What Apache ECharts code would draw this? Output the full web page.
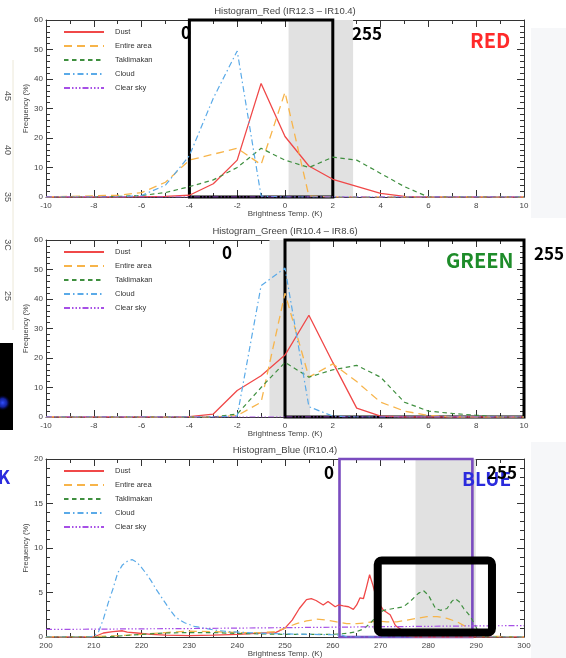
<!DOCTYPE html>
<html>
<head>
<meta charset="utf-8">
<script src="https://cdn.jsdelivr.net/npm/echarts@6/dist/echarts.min.js"></script>
<style>
html,body{margin:0;padding:0;background:#fff;}
#chart{width:566px;height:658px;}
</style>
</head>
<body>
<div id="chart"></div>
<script>
// ---- Red and Green histograms: brightness-temperature difference bins (K) ----
const diffBins = [-10,-9,-8,-7,-6,-5,-4,-3,-2,-1,0,1,2,3,4,5,6,7,8,9,10];

// Histogram_Red (IR12.3 - IR10.4), frequency in %
const redDust    = [0,0,0,0,0.1,0.2,0.6,4.5,12.5,38.5,20.5,10.5,6,3.6,1.2,0.2,0,0,0,0,0];
const redEntire  = [0,0.2,0.4,0.6,1.5,5,12.5,14.5,16.5,11,35.5,0.3,0,0,0,0,0,0,0,0,0];
const redTakla   = [0,0,0,0.2,0.5,1.5,3.5,5.8,10,16.5,12.5,10,13.5,12.5,8,3.5,0,0,0,0,0];
const redCloud   = [0,0,0,0,0.5,4,14,33.5,49.5,0.3,0,0,0,0,0,0,0,0,0,0,0];
const redClear   = [0,0,0,0,0,0,0,0,0,0,0,0,0,0,0,0,0,0,0,0,0];

// Histogram_Green (IR10.4 - IR8.6), frequency in %
const greenDust   = [0,0,0,0,0,0,0.1,1,9,14,21,34.5,18.5,3,0.3,0,0,0,0,0,0];
const greenEntire = [0,0,0,0,0,0,0,0,0.5,5,42,13.5,18,12,5,2,0.5,0,0,0,0];
const greenTakla  = [0,0,0,0,0,0,0,0,1,10,18.5,13.5,16,17.5,13.5,5,2,1.2,0.6,0,0];
const greenCloud  = [0,0,0,0,0,0,0,0,0.3,44.5,50.5,3.5,0.3,0,0,0,0,0,0,0,0];
const greenClear  = [0,0,0,0,0,0,0,0,0,0,0,0,0,0,0,0,0,0,0,0,0];

// Histogram_Blue (IR10.4): brightness temperature (K) and frequency (%)
const blueDustT  = [200,210,212,214,216,217,219,222,225,230,235,240,245,248,250,251.5,253,254.5,255.5,256.5,258,259,260,260.5,261.2,262.2,263.3,264.3,265,265.7,266.4,267,267.7,268.4,269.2,270.6,272,273.1,274.1,275,277,300];
const blueDust   = [0,0,0.45,0.6,0.7,0.55,0.45,0.3,0.2,0.15,0.2,0.3,0.45,0.5,1.0,1.9,3.2,4.2,4.3,4.1,3.6,4.0,3.6,3.4,3.6,3.5,3.4,3.1,3.6,4.4,4.3,5.5,7.0,5.8,4.2,3.0,2.5,1.3,0.9,0.2,0,0];
const blueEntireT = [200,210,215,220,225,228,230,235,240,245,248,250,252.4,254.5,256.6,258.7,260.8,262.9,265,267.1,269.2,271.3,273.4,275.5,277.6,279.7,281.8,283.9,286,288.1,289.5,291,300];
const blueEntire  = [0,0.05,0.15,0.3,0.5,0.6,0.65,0.6,0.5,0.5,0.6,1.0,1.5,1.8,2.0,1.9,1.7,1.5,1.5,1.6,1.8,1.7,1.7,1.9,2.1,2.3,2.3,2.1,1.7,1.1,0.4,0.1,0];
const blueTaklaT = [200,212,215,220,225,230,235,240,245,250,255,260,262.9,265,266.4,267.8,269.2,270.6,272.7,274.8,276.2,277.9,279,280,281.5,282.5,283.9,284.9,285.6,286.4,287.4,288.8,289.9,290.6,292,300];
const blueTakla  = [0,0,0.1,0.3,0.45,0.5,0.5,0.4,0.35,0.3,0.3,0.3,0.4,0.6,0.9,1.5,2.4,3.0,3.2,3.4,4.0,4.9,5.2,4.7,3.2,3.0,3.2,4.0,4.3,4.0,3.2,2.3,1.2,0.4,0,0];
const blueCloudT = [200,209,210,211,212,213,214,215,216,217,218,219,220,221,222,223,224,225,226,227,228,229,230,231,232,233,235,238,242,246,250,255,260,262,263,300];
const blueCloud  = [0,0,0.1,0.6,2.0,3.8,5.4,7.2,8.1,8.5,8.7,8.4,7.8,7.1,6.3,5.4,4.6,3.8,3.0,2.3,1.9,1.6,1.4,1.2,1.1,1.0,0.8,0.6,0.5,0.4,0.35,0.3,0.25,0.2,0,0];
const blueClearT = [200,210,220,230,240,250,260,270,280,290,300];
const blueClear  = [0.85,0.88,0.92,0.95,1.0,1.05,1.1,1.15,1.2,1.25,1.28];

const seriesNames = ['Dust','Entire area','Taklimakan','Cloud','Clear sky'];
const panelTitles = ['Histogram_Red (IR12.3 \u2013 IR10.4)','Histogram_Green (IR10.4 \u2013 IR8.6)','Histogram_Blue (IR10.4)'];

// stretch ranges (0..255) and shaded ranges per panel
const redBand = [0.15, 2.85],  redBox = [-4, 2];
const greenBand = [-0.65, 1.05], greenBox = [0, 10];
const blueBand = [277.3, 289.9], blueBox = [261.4, 289.2];
const blueFocus = [269.4, 293.3, 0.5, 8.6];

const lineStyles = [
  {color:'#f04848', width:1.3, type:'solid'},
  {color:'#f7b44a', width:1.3, type:[8,5]},
  {color:'#3f8f3f', width:1.2, type:[4.5,3.5]},
  {color:'#5aaae8', width:1.2, type:[6,3,1.5,3]},
  {color:'#a64fe6', width:1.2, type:[6,2,1.5,2,1.5,2,1.5,2]}
];

const FONT = '"Liberation Sans", Arial, sans-serif';
const BIG = '"Noto Sans CJK KR", "Open Sans", sans-serif';

const grids = [
  {left:46, top:20,  width:478, height:177},
  {left:46, top:240, width:478, height:177},
  {left:46, top:459, width:478, height:178}
];

function pairs(xs, ys){ return xs.map((x,i)=>[x, ys[i]]); }

const panelData = [
  [redDust, redEntire, redTakla, redCloud, redClear].map(v=>pairs(diffBins, v)),
  [greenDust, greenEntire, greenTakla, greenCloud, greenClear].map(v=>pairs(diffBins, v)),
  [pairs(blueDustT, blueDust), pairs(blueEntireT, blueEntire), pairs(blueTaklaT, blueTakla),
   pairs(blueCloudT, blueCloud), pairs(blueClearT, blueClear)]
];

const xRanges = [[-10,10,2,2],[-10,10,2,2],[200,300,10,2]];
const yRanges = [[0,60,10,5],[0,60,10,5],[0,20,5,5]];

const xAxes = [], yAxes = [], series = [], legends = [], titles = [];
const axisLineStyle = {color:'#333', width:1};

grids.forEach((g, gi) => {
  const [xmin,xmax,xint,xminor] = xRanges[gi];
  const [ymin,ymax,yint,yminor] = yRanges[gi];
  const xa = {
    gridIndex: gi, type:'value', min:xmin, max:xmax, interval:xint,
    axisLine:{show:true, onZero:false, lineStyle:axisLineStyle},
    axisTick:{show:true, inside:true, length:7, lineStyle:axisLineStyle},
    minorTick:{show:true, splitNumber:xminor, length:4, lineStyle:axisLineStyle},
    splitLine:{show:false}, minorSplitLine:{show:false}
  };
  xAxes.push(Object.assign({}, xa, {
    position:'bottom',
    name:'Brightness Temp. (K)', nameLocation:'middle', nameGap:13, nameMoveOverlap:false,
    nameTextStyle:{fontFamily:FONT, fontSize:8, color:'#444'},
    axisLabel:{show:true, margin:5, fontFamily:FONT, fontSize:8, color:'#444'}
  }));
  xAxes.push(Object.assign({}, xa, {position:'top', axisLabel:{show:false}}));
  const ya = {
    gridIndex: gi, type:'value', min:ymin, max:ymax, interval:yint,
    axisLine:{show:true, onZero:false, lineStyle:axisLineStyle},
    axisTick:{show:true, inside:true, length:7, lineStyle:axisLineStyle},
    minorTick:{show:true, splitNumber:yminor, length:4, lineStyle:axisLineStyle},
    splitLine:{show:false}, minorSplitLine:{show:false}
  };
  yAxes.push(Object.assign({}, ya, {
    position:'left',
    name:'Frequency (%)', nameLocation:'middle', nameGap:16, nameRotate:90, nameMoveOverlap:false,
    nameTextStyle:{fontFamily:FONT, fontSize:7.5, color:'#444'},
    axisLabel:{show:true, margin:3, fontFamily:FONT, fontSize:8, color:'#444'}
  }));
  yAxes.push(Object.assign({}, ya, {position:'right', axisLabel:{show:false}}));

  const xi = gi*2, yi = gi*2;
  panelData[gi].forEach((d, si) => {
    series.push({
      type:'line', name:seriesNames[si], xAxisIndex:xi, yAxisIndex:yi,
      data:d, symbol:'none', smooth:false, z:3,
      lineStyle:lineStyles[si], itemStyle:{color:lineStyles[si].color},
      emphasis:{disabled:true}, animation:false
    });
  });

  titles.push({
    text: panelTitles[gi], left: g.left + g.width/2, top: g.top - 14, textAlign:'center', padding:0,
    textStyle:{fontFamily:FONT, fontSize:9.5, fontWeight:'normal', color:'#444'}
  });

  legends.push({
    data: seriesNames, orient:'vertical', left:63, top:g.top + 8, padding:0,
    itemWidth:40, itemHeight:8, itemGap:6, selectedMode:false,
    itemStyle:{opacity:0},
    textStyle:{fontFamily:FONT, fontSize:7.5, color:'#333', lineHeight:8, padding:[0,0,0,6]}
  });
});

// shaded bands (behind the curves)
const bands = [redBand, greenBand, blueBand];
bands.forEach((b, gi) => {
  series.push({
    type:'line', name:'band'+gi, xAxisIndex:gi*2, yAxisIndex:gi*2, data:[], z:1, silent:true,
    markArea:{silent:true, itemStyle:{color:'#e1e1e1'},
      data:[[{xAxis:b[0], yAxis:yRanges[gi][0]},{xAxis:b[1], yAxis:yRanges[gi][1]}]]}
  });
});
// stretch boxes (on top of the curves)
const boxes = [[redBox,'#000',3],[greenBox,'#000',3],[blueBox,'#7a4cbf',2.6]];
boxes.forEach((bx, gi) => {
  series.push({
    type:'line', name:'box'+gi, xAxisIndex:gi*2, yAxisIndex:gi*2, data:[], z:6, silent:true,
    markArea:{silent:true, itemStyle:{color:'rgba(0,0,0,0)', borderColor:bx[1], borderWidth:bx[2]},
      data:[[{xAxis:bx[0][0], yAxis:yRanges[gi][0]},{xAxis:bx[0][1], yAxis:yRanges[gi][1]}]]}
  });
});

const chart = echarts.init(document.getElementById('chart'), null, {renderer:'canvas'});
chart.setOption({
  backgroundColor:'#ffffff',
  animation:false,
  title: titles,
  legend: legends,
  grid: grids.map(g => Object.assign({containLabel:false, outerBoundsMode:'none'}, g)),
  xAxis: xAxes,
  yAxis: yAxes,
  series: series
});

// annotation texts and frames
function txt(text, x, y, size, color, align, z){
  return {type:'text', x:x, y:y, z: z || 20, silent:true,
    style:{text:text, fill:color, font:'bold '+size+'px '+BIG, align:align||'center', verticalAlign:'middle'}};
}
const p0 = chart.convertToPixel({gridIndex:2}, [blueFocus[0], blueFocus[3]]);
const p1 = chart.convertToPixel({gridIndex:2}, [blueFocus[1], blueFocus[2]]);

const side = [];
[['45',96],['40',150],['35',197],['3C',245],['25',296]].forEach(s => {
  side.push({type:'text', x:7, y:s[1], rotation:-Math.PI/2, silent:true,
    style:{text:s[0], fill:'#555', font:'9px '+FONT, align:'center', verticalAlign:'middle'}});
});

chart.setOption({
  graphic: [
    // light strip at the right edge
    {type:'rect', shape:{x:531, y:28, width:35, height:190}, style:{fill:'#f6f7f9'}, z:-1, silent:true},
    {type:'rect', shape:{x:531, y:442, width:35, height:216}, style:{fill:'#f6f7f9'}, z:-1, silent:true},
    // colour bar fragment on the left
    {type:'rect', shape:{x:0, y:343, width:13, height:87}, style:{fill:'#000'}, silent:true},
    {type:'rect', shape:{x:0, y:372, width:13, height:56},
      style:{fill:new echarts.graphic.RadialGradient(0.2,0.55,0.6,[{offset:0,color:'rgba(50,80,255,1)'},{offset:0.55,color:'rgba(25,45,210,0.75)'},{offset:1,color:'rgba(0,0,60,0)'}])}, silent:true},
    {type:'line', shape:{x1:13, y1:60, x2:13, y2:330}, style:{stroke:'#ece8d8', lineWidth:1}, silent:true},
    ...side,
    txt('K', 4, 477, 18, '#2b2bdd'),
    // Red panel
    txt('0', 186, 33, 17, '#000'),
    txt('255', 352, 34, 17, '#000', 'left'),
    txt('RED', 470, 40, 20, '#ff2a2a', 'left'),
    // Green panel
    txt('0', 227, 253, 17, '#000'),
    txt('GREEN', 446, 260, 20, '#1e8c2a', 'left'),
    txt('255', 534, 254, 17, '#000', 'left'),
    // Blue panel
    txt('0', 329, 473, 17, '#000'),
    txt('BLUE', 462, 479, 19, '#2b2bdd', 'left', 20),
    txt('255', 487, 473, 17, '#000', 'left', 21),
    {type:'rect', z:22, silent:true,
      shape:{x:p0[0], y:p0[1], width:p1[0]-p0[0], height:p1[1]-p0[1], r:4},
      style:{fill:'none', stroke:'#000', lineWidth:8}}
  ]
});
</script>
</body>
</html>
